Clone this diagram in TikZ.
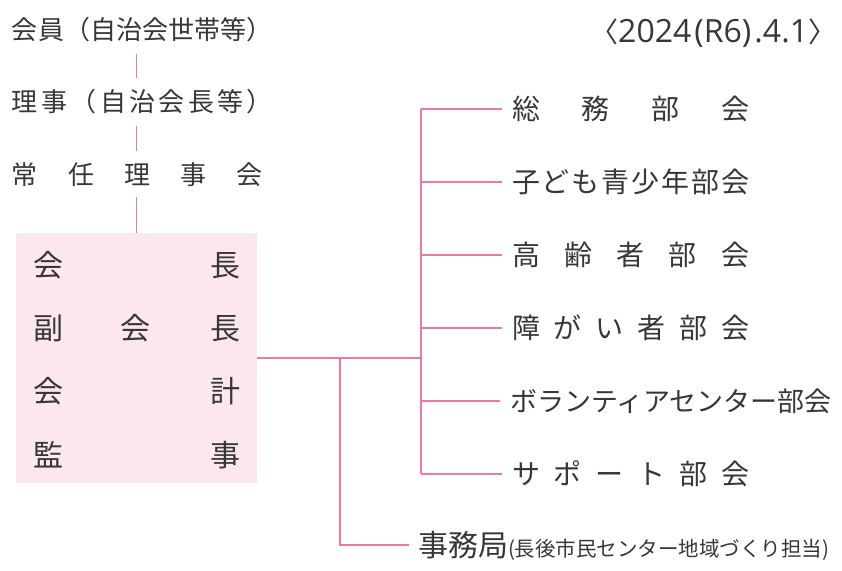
\documentclass[tikz,border=0pt]{standalone}
\usepackage{fontspec}
\setmainfont{Noto Sans CJK JP}
\newfontfamily\datefont{Open Sans}
\newfontfamily\brkfont[RawFeature=+halt]{Noto Sans CJK JP}
\definecolor{pinkline}{RGB}{234,122,158}
\definecolor{pinkfill}{RGB}{252,232,236}
\definecolor{inkc}{RGB}{55,55,55}
\def\sprA#1{#1\sprB}
\def\sprB#1{\ifx\relax#1\else\hfill#1\expandafter\sprB\fi}
\newcommand\spr[2]{\makebox[#1][s]{\sprA#2\relax}}
\begin{document}
\begin{tikzpicture}[x=1pt,y=-1pt,
  t26/.style={inner sep=0pt, outer sep=0pt, text=inkc, font=\fontsize{26pt}{26pt}\selectfont, text height=20.8pt, text depth=1pt},
  t28/.style={inner sep=0pt, outer sep=0pt, text=inkc, font=\fontsize{28pt}{28pt}\selectfont, text height=22.4pt, text depth=1.1pt},
  t30/.style={inner sep=0pt, outer sep=0pt, text=inkc, font=\fontsize{30pt}{30pt}\selectfont, text height=24pt, text depth=1.2pt},
  con/.style={draw=pinkline, line width=1.6pt},
  vcon/.style={con, shorten <=13pt, shorten >=13pt}
]
\useasboundingbox (0,0) rectangle (842,570);
% box
\node[fill=pinkfill, minimum width=241pt, minimum height=250pt, inner sep=0pt, outer sep=0pt] (bx) at (136.5,358) {};
% top-left
\node[t26, anchor=west] (n1) at (12,30) {\spr{261pt}{会員（自治会世帯等）}};
\node[t26, anchor=west] (n2) at (12,102) {\spr{261pt}{理事（自治会長等）}};
\node[t26, anchor=west] (n3) at (12,175) {\spr{251pt}{常任理事会}};
% box content
\node[t30] (k1) at (48,265) {会};
\node[t30] (k2) at (225,265) {長};
\node[t30] (k3) at (48,328) {副};
\node[t30] (k4) at (135,328) {会};
\node[t30] (k5) at (225,328) {長};
\node[t30] (k6) at (48,391) {会};
\node[t30] (k7) at (225,391) {計};
\node[t30] (k8) at (48,455) {監};
\node[t30] (k9) at (225,455) {事};
% right labels
\node[t28, anchor=west] (r1) at (512,109) {\spr{237pt}{総務部会}};
\node[t28, anchor=west] (r2) at (512,182) {\spr{237pt}{子ども青少年部会}};
\node[t28, anchor=west] (r3) at (512,255) {\spr{237pt}{高齢者部会}};
\node[t28, anchor=west] (r4) at (512,328) {\spr{237pt}{障がい者部会}};
\node[t28, anchor=west, font=\fontsize{27pt}{27pt}\selectfont] (r5) at (510,401) {ボランティアセンター部会};
\node[t28, anchor=west] (r6) at (512,474) {\spr{237pt}{サポート部会}};
% secretariat
\node[t30, anchor=west] (jm) at (418,545) {事務局{\fontsize{20.5pt}{20.5pt}\selectfont (長後市民センター地域づくり担当)}};
% date
\node[anchor=base west, inner sep=0pt, text=inkc] (dt) at (604,42) {{\brkfont\fontsize{28pt}{28pt}\selectfont 〈}{\datefont\fontsize{32pt}{32pt}\selectfont 2024\kern3pt(R6)\kern3pt.4.1}{\brkfont\fontsize{28pt}{28pt}\selectfont 〉}};
% junctions
\coordinate (j) at (421,358);
\coordinate (d) at (340,358);
% connectors
\draw[vcon] (n1.south -| bx.north) -- (n2.north -| bx.north);
\draw[vcon] (n2.south -| bx.north) -- (n3.north -| bx.north);
\draw[con, shorten <=11pt] (n3.south -| bx.north) -- (bx.north);
\draw[con] (bx.east) -- (j);
\draw[con] (r1.west -| j) -- (r6.west -| j);
\foreach \i in {1,...,6} \draw[con, shorten >=10pt] (r\i.west -| j) -- (r\i.west);
\draw[con, shorten >=9pt] (d) |- (jm.west);
\end{tikzpicture}
\end{document}
